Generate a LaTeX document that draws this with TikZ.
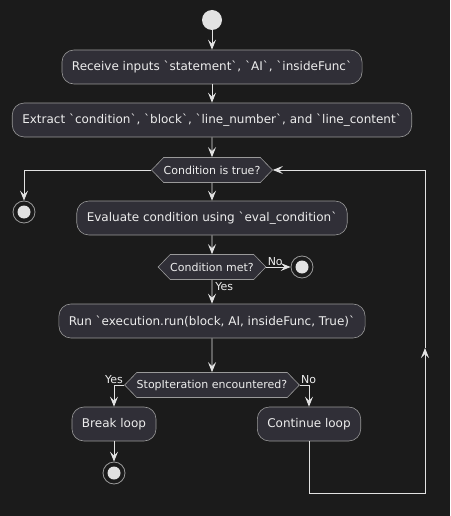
\documentclass[tikz,border=0pt]{standalone}
\usepackage{fontspec}
\newfontfamily\dejavu{DejaVu Sans}
\usetikzlibrary{arrows.meta,shapes.symbols}

\definecolor{bgcol}{HTML}{1B1B1B}
\definecolor{boxcol}{HTML}{302F37}
\definecolor{edgecol}{HTML}{9A9A9A}
\definecolor{linecol}{HTML}{E2E2E2}
\definecolor{txtcol}{HTML}{EDEDED}

\newcommand{\bt}{\symbol{"60}}

\tikzset{
  action/.style={draw=edgecol,line width=0.6pt,fill=boxcol,rounded corners=12pt,
    minimum height=34pt,inner xsep=10pt,text=txtcol,font=\dejavu\fontsize{12}{14}\selectfont},
  choice/.style={draw=edgecol,line width=0.6pt,fill=boxcol,shape=signal,
    signal to=west and east,signal pointer angle=92,minimum height=25pt,
    inner xsep=0pt,text=txtcol,font=\dejavu\fontsize{11}{13}\selectfont},
  begin/.style={circle,fill=linecol,minimum size=20pt,inner sep=0pt},
  finish/.style={circle,draw=edgecol,line width=0.8pt,fill=bgcol,minimum size=22pt,inner sep=0pt,
    path picture={\fill[linecol] (path picture bounding box.center) circle (6.5pt);}},
  flow/.style={draw=linecol,line width=0.9pt,-{Stealth[length=10pt,width=8pt,inset=4pt]}},
  branch/.style={text=txtcol,font=\dejavu\fontsize{11}{13}\selectfont,inner sep=1pt}
}

\begin{document}
\begin{tikzpicture}[x=1pt,y=-1pt]

\fill[bgcol] (0,0) rectangle (450,516);
\useasboundingbox (0,0) rectangle (450,516);

% main column
\node[begin] (start) at (212,20) {};
\node[action] (recv) at (212,67) {Receive inputs \bt statement\bt, \bt AI\bt, \bt insideFunc\bt};
\node[action] (extract) at (212,120) {Extract \bt condition\bt, \bt block\bt, \bt line\_number\bt, and \bt line\_content\bt};
\node[choice] (cond) at (212,170) {Condition is true?};
\node[finish] (stopL) at (24,212) {};
\node[action] (eval) at (212,218) {Evaluate condition using \bt eval\_condition\bt};
\node[choice] (met) at (212,267) {Condition met?};
\node[finish] (stopR) at (302,267) {};
\node[action] (run) at (212,321) {Run \bt execution.run(block, AI, insideFunc, True)\bt};
\node[choice] (stopit) at (212,385) {StopIteration encountered?};

% two branches
\node[action] (brk) at (114,424) {Break loop};
\node[finish] (stopB) at (114,473) {};
\node[action] (cont) at (309,424) {Continue loop};

\coordinate (backB) at (425,493);
\coordinate (backM) at (425,348);

\draw[flow] (start) -- (recv);
\draw[flow] (recv) -- (extract);
\draw[flow] (extract) -- (cond);
\draw[flow] (cond.west) -| (stopL);
\draw[flow] (cond) -- (eval);
\draw[flow] (eval) -- (met);
\draw[flow] (met.east) -- (stopR) node[branch,pos=0,anchor=south west] {No};
\draw[flow] (met) -- (run) node[branch,pos=0,anchor=north west,xshift=2pt,yshift=-1pt] {Yes};
\draw[flow] (run) -- (stopit);
\draw[flow] (stopit.west) -| (brk) node[branch,pos=0,anchor=south east] {Yes};
\draw[flow] (stopit.east) -| (cont) node[branch,pos=0,anchor=south west] {No};
\draw[flow] (brk) -- (stopB);

% loop back
\draw[flow] (cont.south) |- (backB) -- (backM);
\draw[flow] (backM) |- (cond.east);

\end{tikzpicture}
\end{document}
